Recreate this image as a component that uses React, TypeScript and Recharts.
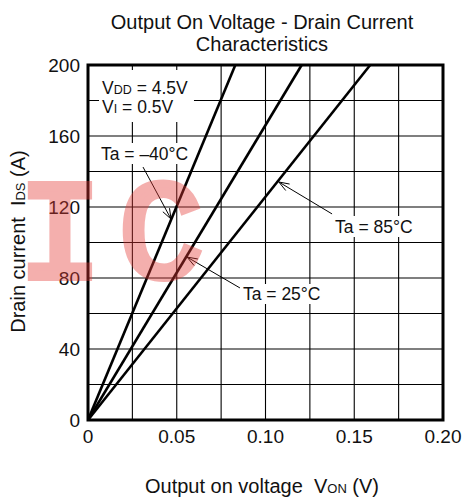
import { LineChart, Line, XAxis, YAxis, CartesianGrid, ReferenceArea, ReferenceLine, ReferenceDot } from 'recharts'

const FONT = '"Liberation Sans", Arial, Helvetica, sans-serif'

// axis ticks (grid every tick, label every other one)
const xTicks = [0, 0.025, 0.05, 0.075, 0.1, 0.125, 0.15, 0.175, 0.2]
const xTickLabels = ['0', '', '0.05', '', '0.10', '', '0.15', '', '0.20']
const yTicks = [0, 20, 40, 60, 80, 100, 120, 140, 160, 180, 200]
const yTickLabels = ['0', '', '40', '', '80', '', '120', '', '160', '', '200']

// Von (V) / Ids (A) for each ambient temperature
const vonM40 = [0, 0.083]
const idsM40 = [0, 200]
const von25 = [0, 0.1204]
const ids25 = [0, 200]
const von85 = [0, 0.159]
const ids85 = [0, 200]

const toPoints = (xs: number[], ys: number[]) => xs.map((v, i) => ({ von: v, ids: ys[i] }))

// annotation callouts, in data units
const arrows = [
  { from: { x: 0.031, y: 142.5 }, to: { x: 0.0468, y: 113.2 } },
  { from: { x: 0.0856, y: 74.4 }, to: { x: 0.0558, y: 91.8 } },
  { from: { x: 0.1375, y: 116.1 }, to: { x: 0.1075, y: 134.1 } },
]
const whiteBoxes = [
  { x1: 0.0062, x2: 0.0597, y1: 167.9, y2: 197.2 },
  { x1: 0.0062, x2: 0.0586, y1: 144.2, y2: 156.1 },
  { x1: 0.1375, x2: 0.1848, y1: 103.1, y2: 114.9 },
  { x1: 0.0856, x2: 0.1341, y1: 65.4, y2: 76.6 },
]
const notes = [
  { x: 0.0079, y: 183.7, main: 'V', sub: 'DD', rest: ' = 4.5V' },
  { x: 0.0079, y: 173.0, main: 'V', sub: 'I', rest: ' = 0.5V' },
  { x: 0.0073, y: 146.5, main: 'Ta = –40°C', sub: '', rest: '' },
  { x: 0.1392, y: 105.4, main: 'Ta = 85°C', sub: '', rest: '' },
  { x: 0.0873, y: 67.6, main: 'Ta = 25°C', sub: '', rest: '' },
]

function ArrowShape(props: any) {
  const { x1, y1, x2, y2 } = props
  const a = Math.atan2(y2 - y1, x2 - x1)
  const len = 11
  const spread = 0.35
  const h1x = x2 - len * Math.cos(a - spread)
  const h1y = y2 - len * Math.sin(a - spread)
  const h2x = x2 - len * Math.cos(a + spread)
  const h2y = y2 - len * Math.sin(a + spread)
  return (
    <g stroke="#000" strokeWidth={1} fill="none">
      <line x1={x1} y1={y1} x2={x2} y2={y2} />
      <polyline points={`${h1x},${h1y} ${x2},${y2} ${h2x},${h2y}`} />
    </g>
  )
}

function noteShape(n: typeof notes[number]) {
  return (p: any) => (
    <text x={p.cx} y={p.cy} fontFamily={FONT} fontSize={17.5} fill="#111" textAnchor="start">
      {n.main}
      {n.sub && <tspan fontSize={12.5}>{n.sub}</tspan>}
      {n.rest}
    </text>
  )
}

export default function App() {
  const tickStyle = { fontFamily: FONT, fontSize: 19, fill: '#111' }
  return (
    <div style={{ position: 'absolute', left: 0, top: 0, width: 462, height: 500, background: '#fff' }}>
      <LineChart width={462} height={500} margin={{ top: 65, right: 19, bottom: 50, left: 28 }}>
        <CartesianGrid stroke="#000" strokeWidth={1.1} horizontal vertical />
        <XAxis
          type="number"
          dataKey="von"
          domain={[0, 0.2]}
          ticks={xTicks}
          tickFormatter={(v: number) => xTickLabels[xTicks.indexOf(v)] ?? ''}
          interval={0}
          height={30}
          tickSize={0}
          tickMargin={10}
          axisLine={false}
          tick={tickStyle}
          allowDataOverflow
        />
        <YAxis
          type="number"
          dataKey="ids"
          domain={[0, 200]}
          ticks={yTicks}
          tickFormatter={(v: number) => yTickLabels[yTicks.indexOf(v)] ?? ''}
          interval={0}
          width={60}
          tickSize={0}
          tickMargin={8}
          axisLine={false}
          tick={tickStyle}
        />
        {whiteBoxes.map((b, i) => (
          <ReferenceArea key={'b' + i} x1={b.x1} x2={b.x2} y1={b.y1} y2={b.y2} fill="#fff" fillOpacity={1} stroke="none" />
        ))}
        <Line data={toPoints(vonM40, idsM40)} dataKey="ids" stroke="#000" strokeWidth={2.6} dot={false} isAnimationActive={false} />
        <Line data={toPoints(von25, ids25)} dataKey="ids" stroke="#000" strokeWidth={2.6} dot={false} isAnimationActive={false} />
        <Line data={toPoints(von85, ids85)} dataKey="ids" stroke="#000" strokeWidth={2.6} dot={false} isAnimationActive={false} />
        {arrows.map((a, i) => (
          <ReferenceLine key={'a' + i} segment={[a.from, a.to]} shape={ArrowShape} />
        ))}
        {notes.map((n, i) => (
          <ReferenceDot key={'n' + i} x={n.x} y={n.y} r={0} shape={noteShape(n)} />
        ))}
        <ReferenceArea x1={0} x2={0.2} y1={0} y2={200} fill="none" stroke="#000" strokeWidth={3} />
      </LineChart>
      <svg width={462} height={500} style={{ position: 'absolute', left: 0, top: 0, pointerEvents: 'none', whiteSpace: 'pre' }}>
        <text x={262} y={29} textAnchor="middle" fontFamily={FONT} fontSize={20} fill="#111">
          Output On Voltage - Drain Current
        </text>
        <text x={262} y={51} textAnchor="middle" fontFamily={FONT} fontSize={20} fill="#111">
          Characteristics
        </text>
        <text x={262} y={493} textAnchor="middle" fontFamily={FONT} fontSize={20} fill="#111" xmlSpace="preserve">
          {'Output on voltage  V'}<tspan fontSize={13}>ON</tspan>{' (V)'}
        </text>
        <text
          x={25}
          y={241.5}
          textAnchor="middle"
          fontFamily={FONT}
          fontSize={20}
          fill="#111"
          xmlSpace="preserve"
          transform="rotate(-90 25 241.5)"
        >
          {'Drain current  I'}<tspan fontSize={13}>DS</tspan>{' (A)'}
        </text>
        <g opacity={0.4}>
          <text
            x={18}
            y={277}
            fontFamily='"Liberation Mono", "Courier New", monospace'
            fontSize={140}
            letterSpacing={17}
            fill="#e53935"
            stroke="#e53935"
            strokeWidth={8}
          >
            IC
          </text>
        </g>
      </svg>
    </div>
  )
}
